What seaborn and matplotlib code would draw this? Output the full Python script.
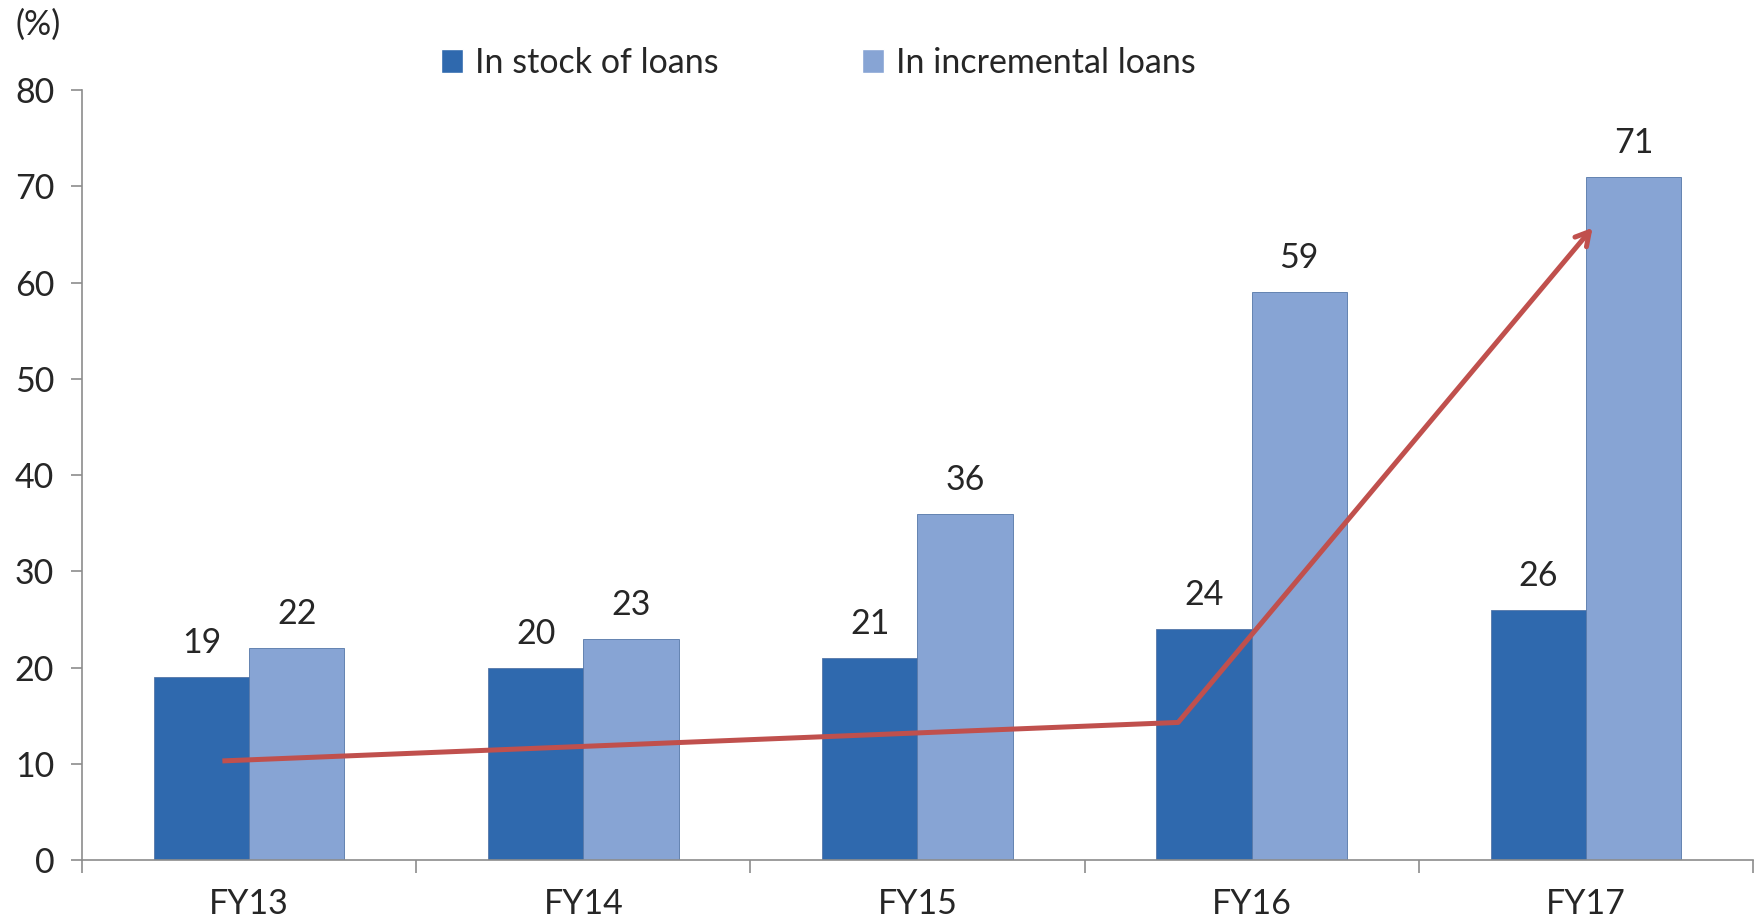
import pandas as pd
import matplotlib
matplotlib.use("Agg")
import matplotlib.pyplot as plt
import seaborn as sns

years = ["FY13", "FY14", "FY15", "FY16", "FY17"]
stock_share = [19, 20, 21, 24, 26]
incremental_share = [22, 23, 36, 59, 71]
series_names = ["In stock of loans", "In incremental loans"]

# trend arrow drawn over the bars (category position, %)
trend_x = [-0.08, 2.78, 4.02]
trend_y = [10.3, 14.3, 65.7]

sns.set_theme(style="white")
plt.rcParams["font.family"] = ["Lato", "DejaVu Sans"]

df = pd.DataFrame({
    "year": years * 2,
    "value": stock_share + incremental_share,
    "series": [series_names[0]] * len(years) + [series_names[1]] * len(years),
})

fig = plt.figure(figsize=(17.6, 9.22), dpi=100)
ax = fig.add_axes([0.0466, 0.0672, 0.9494, 0.835])

palette = {series_names[0]: "#2F69AE", series_names[1]: "#87A4D4"}
sns.barplot(data=df, x="year", y="value", hue="series", palette=palette,
            width=0.57, gap=0, saturation=1, ax=ax, legend=True)

for bars in ax.containers:
    for b in bars:
        b.set_edgecolor("#5577A8")
        b.set_linewidth(0.6)
    ax.bar_label(bars, fmt="%d", padding=13, fontsize=24.5)

# trend arrow
ax.plot(trend_x[:-1], trend_y[:-1], color="#C0504D", lw=3.6, solid_capstyle="butt", zorder=5)
ax.annotate("", xy=(trend_x[-1], trend_y[-1]), xytext=(trend_x[-2], trend_y[-2]),
            arrowprops=dict(arrowstyle="->,head_length=0.8,head_width=0.45",
                            color="#C0504D", lw=3.6, shrinkA=0, shrinkB=0),
            zorder=5)

ax.set_xlim(-0.5, 4.5)
ax.set_ylim(0, 80)
ax.set_yticks(range(0, 81, 10))
ax.set_xlabel("")
ax.set_ylabel("")

for s in ["top", "right"]:
    ax.spines[s].set_visible(False)
for s in ["left", "bottom"]:
    ax.spines[s].set_color("#8C8C8C")
    ax.spines[s].set_linewidth(1.2)

ax.tick_params(axis="y", which="major", direction="out", length=8, width=1.2,
               color="#8C8C8C", labelsize=24.5, pad=12, left=True)
ax.tick_params(axis="x", which="major", length=0, labelsize=24.5, pad=20)
ax.set_xticks([i - 0.5 for i in range(len(years) + 1)], minor=True)
ax.tick_params(axis="x", which="minor", direction="out", length=9, width=1.2,
               color="#8C8C8C", bottom=True)

fig.text(0.009, 0.973, "(%)", fontsize=24.5, va="center", ha="left")

handles, labels = ax.get_legend_handles_labels()
ax.get_legend().remove()
fig.legend(handles, labels, loc="center", bbox_to_anchor=(0.465, 0.932), ncol=2,
           frameon=False, fontsize=24.5, handlelength=0.65, handleheight=0.7,
           handletextpad=0.35, columnspacing=4.2)

fig.savefig("out.png", dpi=100)
